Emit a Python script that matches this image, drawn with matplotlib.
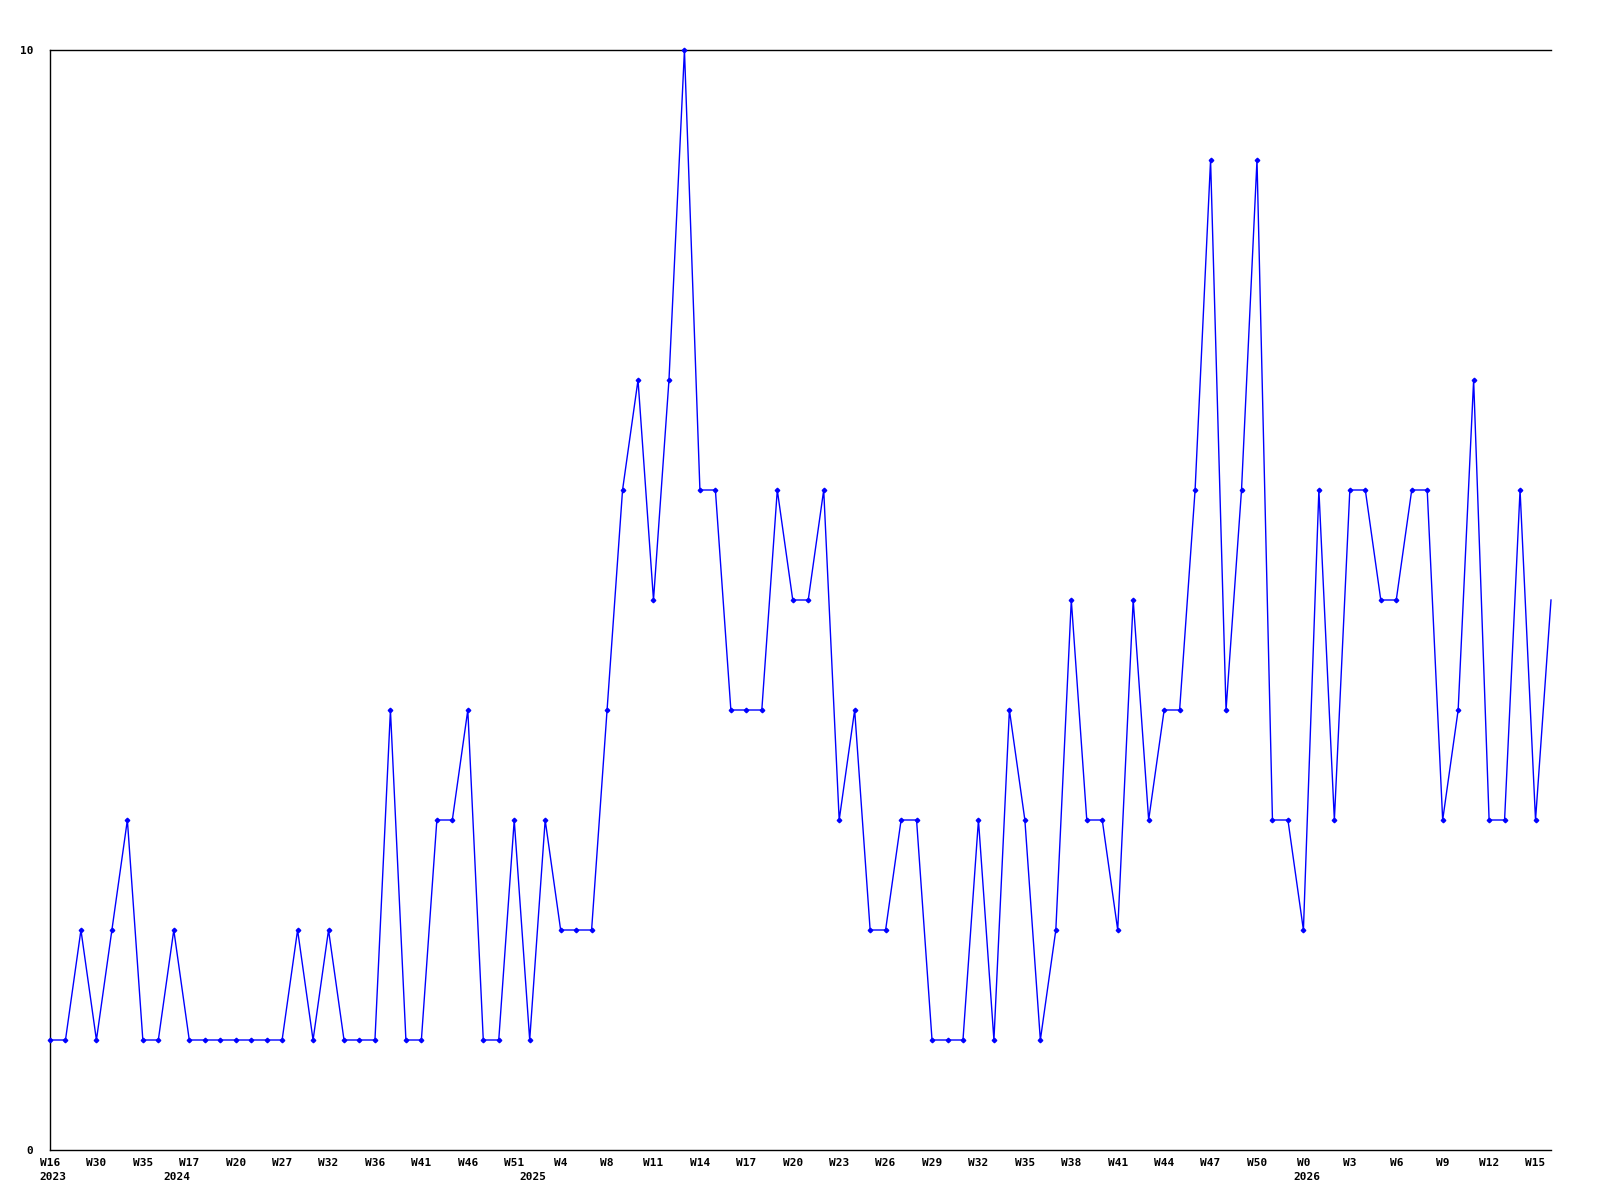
import matplotlib
matplotlib.use("Agg")
import matplotlib.pyplot as plt
from matplotlib.transforms import blended_transform_factory, offset_copy

# weekly counts
values = [1, 1, 2, 1, 2, 3, 1, 1, 2, 1,
          1, 1, 1, 1, 1, 1, 2, 1, 2, 1,
          1, 1, 4, 1, 1, 3, 3, 4, 1, 1,
          3, 1, 3, 2, 2, 2, 4, 6, 7, 5,
          7, 10, 6, 6, 4, 4, 4, 6, 5, 5,
          6, 3, 4, 2, 2, 3, 3, 1, 1, 1,
          3, 1, 4, 3, 1, 2, 5, 3, 3, 2,
          5, 3, 4, 4, 6, 9, 4, 6, 9, 3,
          3, 2, 6, 3, 6, 6, 5, 5, 6, 6,
          3, 4, 7, 3, 3, 6, 3, 5]

week_labels = ['W16', 'W30', 'W35', 'W17', 'W20', 'W27', 'W32', 'W36', 'W41',
               'W46', 'W51', 'W4', 'W8', 'W11', 'W14', 'W17', 'W20', 'W23',
               'W26', 'W29', 'W32', 'W35', 'W38', 'W41', 'W44', 'W47', 'W50',
               'W0', 'W3', 'W6', 'W9', 'W12', 'W15']
label_step = 3

years = ['2023', '2024', '2025', '2026']
year_pos = [0, 8, 31, 81]

font = dict(family='DejaVu Sans Mono', fontweight='bold', fontsize=8)

fig = plt.figure(figsize=(16, 12), dpi=100)
ax = fig.add_axes([50 / 1600, 50 / 1200, 1501 / 1600, 1100 / 1200])

x = list(range(len(values)))
ax.plot(x, values, color='#0000ff', linewidth=1.0, marker='D', markersize=2.3,
        markevery=list(range(len(values) - 1)), clip_on=False, zorder=3)

ax.set_xlim(0, len(values) - 1)
ax.set_ylim(0, 10)

for side in ['left', 'top', 'bottom']:
    ax.spines[side].set_color('black')
    ax.spines[side].set_linewidth(1.0)
ax.spines['right'].set_visible(False)

ax.set_yticks([0, 10])
ax.set_yticklabels(['0', '10'], **font)
ax.set_xticks(x[::label_step])
ax.set_xticklabels(week_labels, **font)
ax.tick_params(axis='both', length=0)
ax.tick_params(axis='x', pad=6)
ax.tick_params(axis='y', pad=12)

trans = offset_copy(blended_transform_factory(ax.transData, ax.transAxes),
                    fig=fig, x=3, y=-27, units='dots')
for yr, pos in zip(years, year_pos):
    ax.text(pos, 0, yr, transform=trans, ha='center', va='center', **font)

fig.savefig('out.png', dpi=100)
